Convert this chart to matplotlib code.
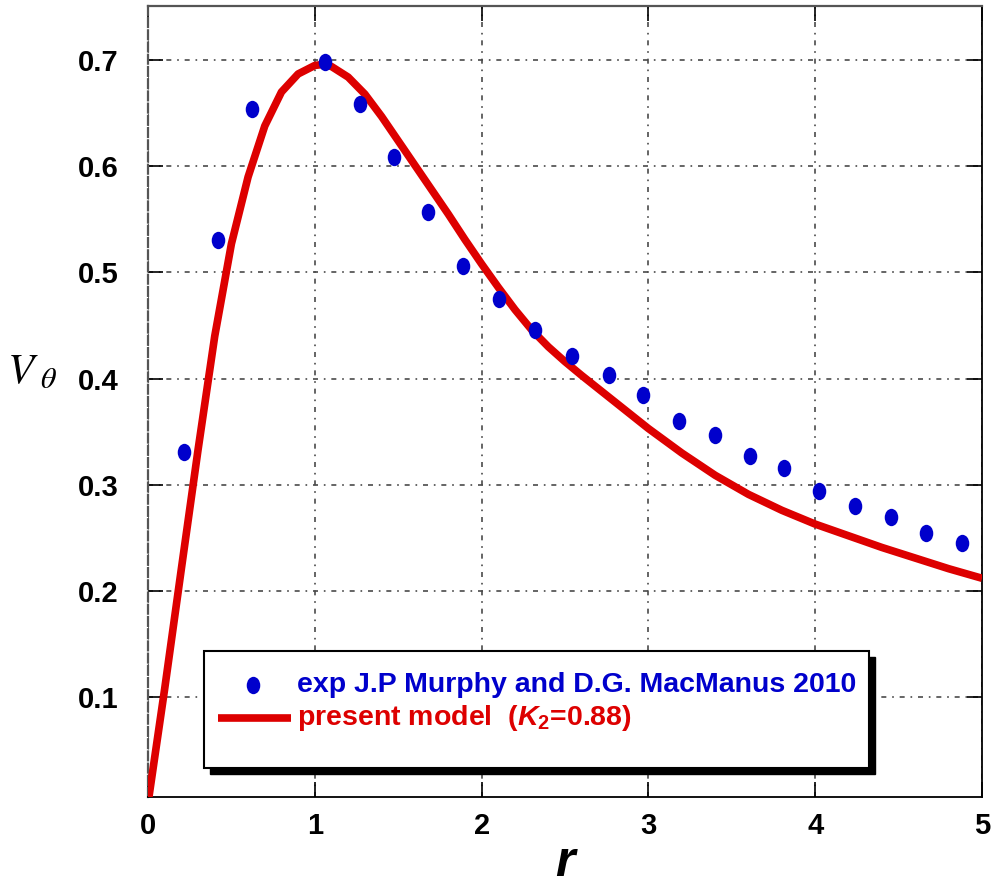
import numpy as np
import matplotlib.pyplot as plt
from matplotlib.path import Path
from matplotlib.transforms import Affine2D
from matplotlib.patches import Rectangle
from matplotlib.lines import Line2D

plt.rcParams['font.family'] = ['Liberation Sans', 'DejaVu Sans']
plt.rcParams['mathtext.fontset'] = 'custom'
plt.rcParams['mathtext.rm'] = 'Liberation Sans:bold'
plt.rcParams['mathtext.bf'] = 'Liberation Sans:bold'
plt.rcParams['mathtext.it'] = 'Liberation Sans:bold:italic'

# experimental points (Murphy & MacManus 2010)
r_exp = [0.216, 0.42, 0.624, 1.062, 1.273, 1.477, 1.681, 1.891, 2.107, 2.317, 2.539,
         2.761, 2.965, 3.181, 3.397, 3.607, 3.812, 4.022, 4.238, 4.454, 4.664, 4.88]
v_exp = [0.331, 0.531, 0.654, 0.698, 0.659, 0.609, 0.557, 0.506, 0.475, 0.446, 0.421,
         0.403, 0.385, 0.360, 0.347, 0.327, 0.316, 0.294, 0.280, 0.270, 0.255, 0.245]

# present model curve
r_mod = [0.0, 0.1, 0.2, 0.3, 0.4, 0.5, 0.6, 0.7, 0.8, 0.9, 1.0, 1.05, 1.1, 1.2, 1.3,
         1.4, 1.5, 1.6, 1.7, 1.8, 1.9, 2.0, 2.1, 2.2, 2.3, 2.4, 2.5, 2.6, 2.8, 3.0,
         3.2, 3.4, 3.6, 3.8, 4.0, 4.2, 4.4, 4.6, 4.8, 5.0]
v_mod = [0.0, 0.108, 0.221, 0.333, 0.440, 0.527, 0.590, 0.638, 0.670, 0.687, 0.695,
         0.696, 0.694, 0.684, 0.668, 0.647, 0.624, 0.601, 0.578, 0.555, 0.531, 0.508,
         0.486, 0.465, 0.446, 0.430, 0.416, 0.403, 0.378, 0.353, 0.330, 0.309, 0.291,
         0.276, 0.263, 0.252, 0.241, 0.231, 0.221, 0.212]

x_ticks = [0, 1, 2, 3, 4, 5]
y_ticks = [0.1, 0.2, 0.3, 0.4, 0.5, 0.6, 0.7]

blue = '#0000cc'
red = '#dd0000'

ellipse = Path.unit_circle().transformed(Affine2D().scale(0.78, 1.0))

fig = plt.figure(figsize=(9.96, 8.94), dpi=100)
ax = fig.add_axes([0.1486, 0.1085, 0.8374, 0.8848])

ax.plot(r_mod, v_mod, color=red, lw=5.5, solid_capstyle='butt', solid_joinstyle='round',
        zorder=3)
ax.plot(r_exp, v_exp, linestyle='none', marker=ellipse, markersize=12.5,
        color=blue, markeredgewidth=0, zorder=4)

ax.set_xlim(0, 5)
ax.set_ylim(0.006, 0.751)
ax.set_xticks(x_ticks)
ax.set_yticks(y_ticks)
ax.set_xticklabels([str(t) for t in x_ticks])
ax.set_yticklabels(['%.1f' % t for t in y_ticks])
ax.grid(True, color='#4a4a4a', lw=1.2, linestyle=(0, (3, 3.5, 1, 3.5)))
ax.tick_params(direction='in', length=11, width=1.2, top=True, right=True,
               labelsize=21, pad=11)
ax.tick_params(axis='y', pad=21)
for lab in ax.get_xticklabels() + ax.get_yticklabels():
    lab.set_fontweight('bold')

for side in ['bottom', 'right']:
    ax.spines[side].set_color('black')
    ax.spines[side].set_linewidth(1.3)
ax.spines['top'].set_color('#555555')
ax.spines['top'].set_linewidth(1.6)
ax.spines['left'].set_color('#555555')
ax.spines['left'].set_linewidth(1.6)
ax.spines['left'].set_linestyle((0, (4, 1.5)))

ax.set_xlabel('r', fontsize=36, fontweight='bold', fontstyle='italic', labelpad=0)
fig.text(0.032, 0.583, r'$V_{\ \theta}$', fontsize=31, math_fontfamily='stix',
         ha='center', va='center')

# legend box with shadow, in axes fraction
bx0, by0, bw, bh = 0.0672, 0.0367, 0.7977, 0.1479
sh = Rectangle((bx0 + 0.0070, by0 - 0.0080), bw, bh, transform=ax.transAxes,
               facecolor='black', edgecolor='black', zorder=5)
box = Rectangle((bx0, by0), bw, bh, transform=ax.transAxes,
                facecolor='white', edgecolor='black', lw=1.5, zorder=6)
ax.add_patch(sh)
ax.add_patch(box)
ax.add_line(Line2D([0.1260], [0.1417], transform=ax.transAxes, marker=ellipse,
                   markersize=12.5, color=blue, markeredgewidth=0, zorder=7))
ax.add_line(Line2D([0.0840, 0.1720], [0.1000, 0.1000], transform=ax.transAxes,
                   color=red, lw=5.5, solid_capstyle='butt', zorder=7))
ax.text(0.1790, 0.1417, 'exp J.P Murphy and D.G. MacManus 2010', transform=ax.transAxes,
        fontsize=20.5, fontweight='bold', color=blue, va='center', ha='left', zorder=8)
ax.text(0.1790, 0.1000, r'present model  ($\mathit{K}_{\mathbf{2}}$=0.88)',
        transform=ax.transAxes, fontsize=20.5, fontweight='bold', color=red,
        va='center', ha='left', zorder=8)

fig.savefig('out.png', dpi=100)
